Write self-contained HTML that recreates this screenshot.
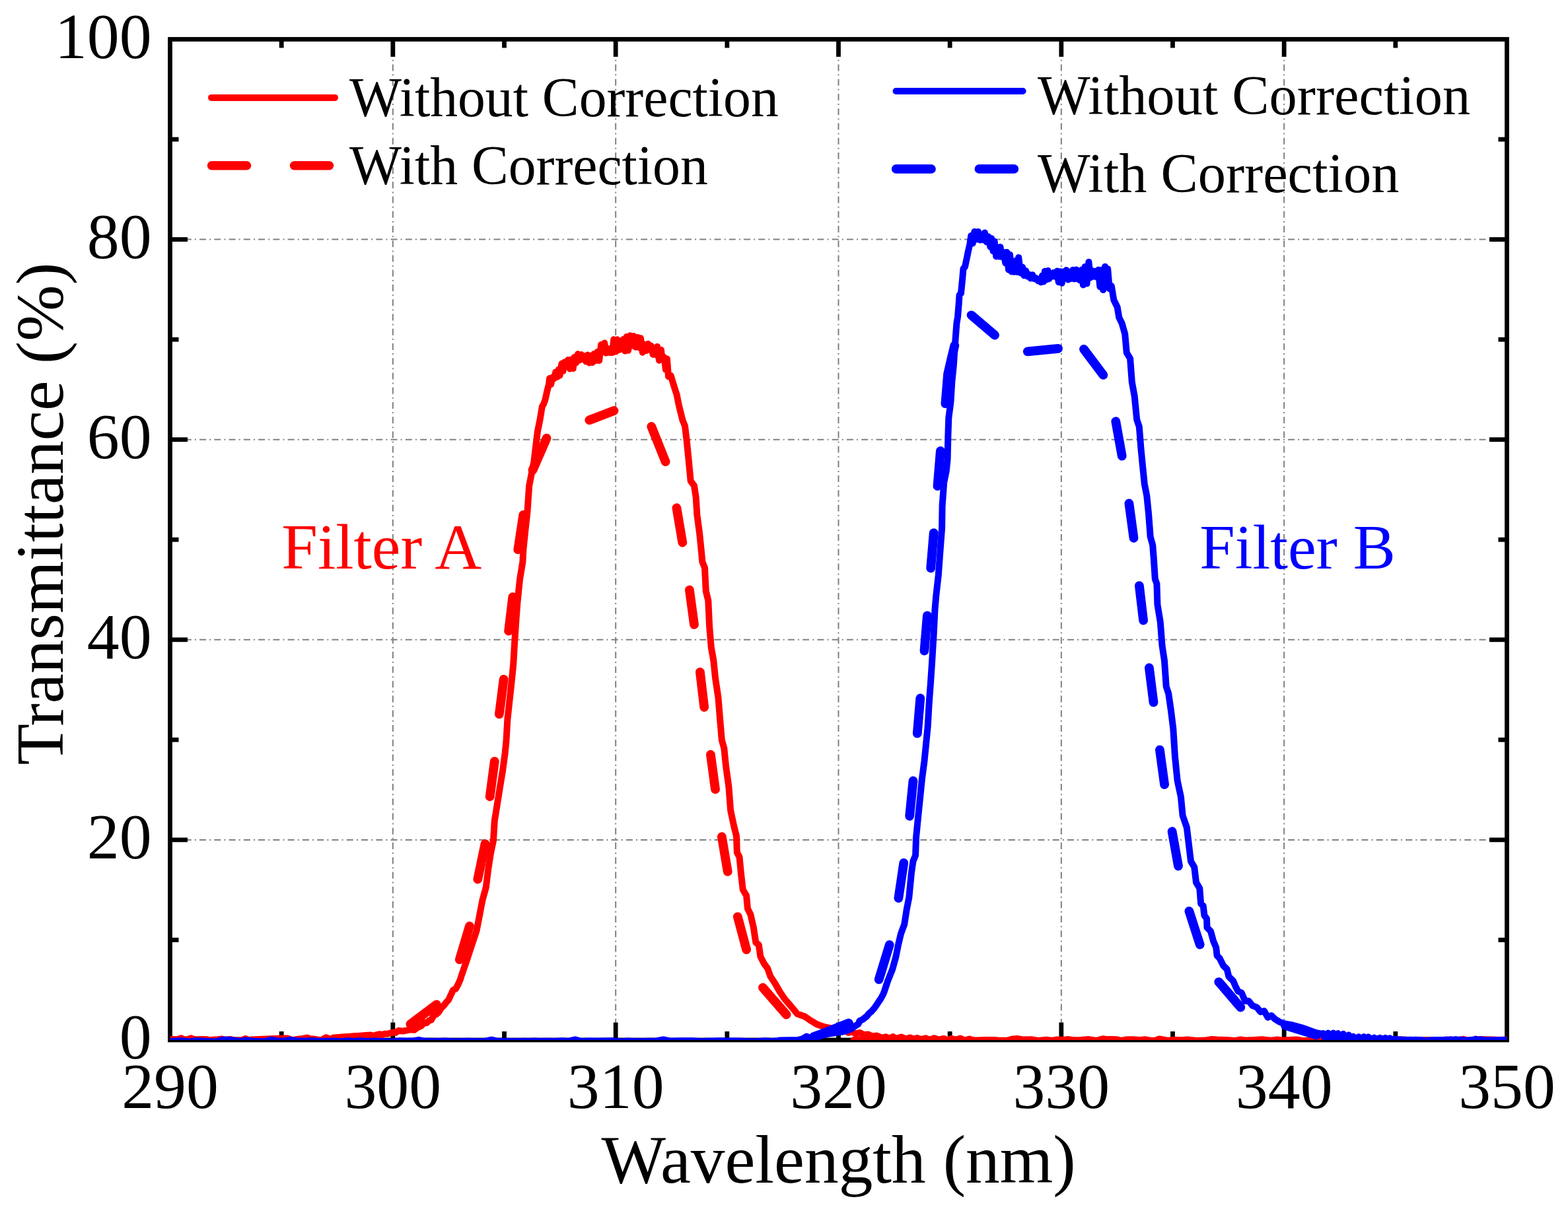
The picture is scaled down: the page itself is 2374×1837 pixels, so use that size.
<!DOCTYPE html>
<html><head><meta charset="utf-8"><title>Transmittance</title><style>html,body{margin:0;padding:0;background:#fff;}svg{display:block;}</style></head><body>
<svg width="2374" height="1837" viewBox="0 0 2374 1837">
<rect width="2374" height="1837" fill="#fff"/>
<g stroke="#808080" stroke-width="2" fill="none"><g stroke-dasharray="10 5.1 2 5.135"><line x1="594.83" y1="1575.00" x2="594.83" y2="59.50"/><line x1="932.17" y1="1575.00" x2="932.17" y2="59.50"/><line x1="1269.50" y1="1575.00" x2="1269.50" y2="59.50"/><line x1="1606.83" y1="1575.00" x2="1606.83" y2="59.50"/><line x1="1944.17" y1="1575.00" x2="1944.17" y2="59.50"/></g><g stroke-dasharray="10 5.1 2 5.17"><line x1="257.50" y1="1271.90" x2="2281.50" y2="1271.90"/><line x1="257.50" y1="968.80" x2="2281.50" y2="968.80"/><line x1="257.50" y1="665.70" x2="2281.50" y2="665.70"/><line x1="257.50" y1="362.60" x2="2281.50" y2="362.60"/></g></g>
<rect x="257.5" y="59.5" width="2024.0" height="1515.5" fill="none" stroke="#000" stroke-width="6.8"/>
<g stroke="#000" stroke-width="6.8"><line x1="426.17" y1="1575.00" x2="426.17" y2="1562.00"/><line x1="426.17" y1="59.50" x2="426.17" y2="72.50"/><line x1="594.83" y1="1575.00" x2="594.83" y2="1548.50"/><line x1="594.83" y1="59.50" x2="594.83" y2="86.00"/><line x1="763.50" y1="1575.00" x2="763.50" y2="1562.00"/><line x1="763.50" y1="59.50" x2="763.50" y2="72.50"/><line x1="932.17" y1="1575.00" x2="932.17" y2="1548.50"/><line x1="932.17" y1="59.50" x2="932.17" y2="86.00"/><line x1="1100.83" y1="1575.00" x2="1100.83" y2="1562.00"/><line x1="1100.83" y1="59.50" x2="1100.83" y2="72.50"/><line x1="1269.50" y1="1575.00" x2="1269.50" y2="1548.50"/><line x1="1269.50" y1="59.50" x2="1269.50" y2="86.00"/><line x1="1438.17" y1="1575.00" x2="1438.17" y2="1562.00"/><line x1="1438.17" y1="59.50" x2="1438.17" y2="72.50"/><line x1="1606.83" y1="1575.00" x2="1606.83" y2="1548.50"/><line x1="1606.83" y1="59.50" x2="1606.83" y2="86.00"/><line x1="1775.50" y1="1575.00" x2="1775.50" y2="1562.00"/><line x1="1775.50" y1="59.50" x2="1775.50" y2="72.50"/><line x1="1944.17" y1="1575.00" x2="1944.17" y2="1548.50"/><line x1="1944.17" y1="59.50" x2="1944.17" y2="86.00"/><line x1="2112.83" y1="1575.00" x2="2112.83" y2="1562.00"/><line x1="2112.83" y1="59.50" x2="2112.83" y2="72.50"/><line x1="257.50" y1="1423.45" x2="270.50" y2="1423.45"/><line x1="2281.50" y1="1423.45" x2="2268.50" y2="1423.45"/><line x1="257.50" y1="1271.90" x2="284.00" y2="1271.90"/><line x1="2281.50" y1="1271.90" x2="2255.00" y2="1271.90"/><line x1="257.50" y1="1120.35" x2="270.50" y2="1120.35"/><line x1="2281.50" y1="1120.35" x2="2268.50" y2="1120.35"/><line x1="257.50" y1="968.80" x2="284.00" y2="968.80"/><line x1="2281.50" y1="968.80" x2="2255.00" y2="968.80"/><line x1="257.50" y1="817.25" x2="270.50" y2="817.25"/><line x1="2281.50" y1="817.25" x2="2268.50" y2="817.25"/><line x1="257.50" y1="665.70" x2="284.00" y2="665.70"/><line x1="2281.50" y1="665.70" x2="2255.00" y2="665.70"/><line x1="257.50" y1="514.15" x2="270.50" y2="514.15"/><line x1="2281.50" y1="514.15" x2="2268.50" y2="514.15"/><line x1="257.50" y1="362.60" x2="284.00" y2="362.60"/><line x1="2281.50" y1="362.60" x2="2255.00" y2="362.60"/><line x1="257.50" y1="211.05" x2="270.50" y2="211.05"/><line x1="2281.50" y1="211.05" x2="2268.50" y2="211.05"/></g>
<defs><clipPath id="pc"><rect x="257.5" y="59.5" width="2024.0" height="1515.5"/></clipPath></defs>
<g clip-path="url(#pc)" fill="none" stroke-linecap="round" stroke-linejoin="round">
<path d="M250.0 1574.5 L262.0 1574.0 L268.0 1574.3 L274.3 1572.2 L279.3 1574.6 L284.0 1574.0 L289.4 1572.3 L294.0 1574.2 L300.0 1574.3 L307.0 1574.0 L314.0 1574.3 L317.8 1575.5 L322.0 1574.8 L330.0 1574.2 L336.0 1573.6 L341.0 1575.0 L348.0 1574.0 L353.0 1575.0 L357.0 1575.3 L364.5 1575.2 L366.0 1575.3 L371.9 1573.0 L378.3 1576.2 L380.1 1574.4 L428.7 1572.5 L435.0 1572.5 L442.4 1575.3 L451.6 1573.8 L458.0 1573.0 L465.3 1571.6 L470.0 1573.5 L474.5 1573.5 L480.0 1574.5 L486.4 1575.3 L493.7 1571.2 L499.2 1573.5 L505.0 1573.0 L510.0 1571.5 L515.7 1570.7 L561.0 1567.5 L566.0 1568.8 L569.5 1567.4 L575.0 1566.2 L578.0 1567.4 L581.8 1565.7 L588.0 1565.5 L594.2 1563.5 L599.0 1563.8 L603.4 1560.8 L609.5 1561.6 L615.0 1560.6 L621.8 1559.2 L627.0 1559.8 L633.1 1555.5 L638.0 1553.5 L642.6 1548.4 L646.0 1549.0 L649.7 1545.6 L653.0 1544.5 L656.8 1537.5 L660.0 1536.5 L663.9 1533.2 L668.7 1525.6 L671.0 1524.0 L676.0 1517.5 L679.0 1514.5 L682.0 1508.0 L686.0 1499.5 L690.0 1497.5 L693.8 1490.5 L697.6 1481.6 L697.6 1480.6 L705.6 1457.5 L714.4 1430.9 L721.5 1409.6 L726.0 1386.5 L730.4 1363.4 L735.8 1343.9 L739.3 1315.5 L743.0 1292.0 L747.0 1273.0 L748.8 1242.7 L752.3 1221.4 L756.8 1193.0 L761.2 1166.4 L764.7 1139.8 L766.5 1122.0 L768.3 1090.1 L771.0 1065.2 L774.5 1033.3 L777.2 1006.6 L779.0 975.0 L781.0 945.0 L783.4 913.0 L787.0 877.5 L791.4 850.9 L792.3 833.1 L795.0 806.5 L798.5 774.6 L801.2 735.5 L804.7 717.8 L808.3 700.0 L810.4 682.0 L813.9 653.6 L817.7 634.7 L820.8 615.8 L823.0 612.0 L825.2 606.3 L828.4 592.1 L831.2 581.0 L832.0 573.0 L834.1 582.2 L836.5 571.5 L838.8 573.5 L841.3 563.4 L843.9 570.7 L845.7 559.5 L847.6 568.5 L850.4 550.8 L852.5 561.9 L854.5 548.6 L857.5 551.6 L859.9 545.0 L862.7 558.5 L865.1 544.4 L867.7 558.1 L869.6 540.9 L872.2 549.5 L875.0 536.1 L877.5 545.5 L880.2 537.1 L882.8 544.1 L884.6 539.3 L887.3 547.6 L889.9 537.6 L892.0 549.5 L893.9 538.8 L896.7 549.1 L899.1 536.0 L901.7 546.2 L904.6 532.7 L907.2 546.0 L910.1 521.9 L912.4 532.9 L915.2 519.5 L917.5 534.6 L920.4 527.8 L923.3 534.1 L925.2 528.1 L927.2 534.0 L929.2 514.1 L932.2 532.6 L934.5 514.2 L937.1 529.9 L939.2 517.1 L941.6 523.8 L943.9 513.8 L946.1 531.6 L948.6 509.9 L951.1 530.7 L954.0 508.2 L956.6 523.5 L959.5 509.1 L962.4 525.7 L965.4 510.9 L968.0 526.5 L970.0 512.3 L972.8 533.7 L975.7 521.7 L978.6 531.0 L981.1 520.7 L983.8 529.0 L985.8 523.6 L988.6 536.9 L991.1 527.0 L993.2 537.4 L995.1 524.9 L998.0 545.7 L1000.9 530.0 L1002.8 545.0 L1005.6 541.1 L1007.9 559.8 L1009.9 543.5 L1012.0 570.2 L1015.6 568.8 L1021.0 586.5 L1024.5 597.2 L1028.1 614.9 L1033.4 636.2 L1037.0 645.1 L1039.6 666.4 L1042.3 693.0 L1045.7 728.4 L1051.0 735.5 L1053.7 753.3 L1055.4 779.9 L1059.0 806.5 L1061.7 833.1 L1063.4 850.9 L1067.0 859.8 L1068.8 895.3 L1072.3 909.5 L1074.1 948.5 L1076.8 980.5 L1080.3 1000.0 L1083.0 1026.6 L1087.5 1056.8 L1090.1 1088.8 L1092.8 1120.7 L1096.3 1133.1 L1099.0 1159.8 L1103.4 1191.7 L1106.1 1227.2 L1111.4 1252.1 L1115.0 1266.3 L1115.9 1291.1 L1119.5 1297.8 L1122.1 1324.4 L1124.8 1347.5 L1130.1 1356.3 L1131.9 1375.9 L1136.3 1384.7 L1140.8 1404.3 L1144.3 1427.3 L1148.8 1430.9 L1151.4 1448.7 L1156.8 1459.3 L1162.1 1466.4 L1166.5 1478.8 L1173.6 1489.5 L1180.7 1501.9 L1187.8 1512.6 L1198.5 1525.0 L1207.3 1535.6 L1218.0 1539.2 L1228.6 1546.3 L1237.5 1551.6 L1248.2 1555.2 L1258.8 1557.3 L1273.0 1560.5 L1279.0 1559.9 L1284.5 1563.8 L1289.7 1562.5 L1295.8 1565.4 L1302.3 1564.0 L1308.6 1567.5 L1313.9 1566.4 L1321.3 1569.6 L1327.0 1568.4 L1334.9 1571.6 L1341.0 1570.3 L1346.2 1573.0 L1352.1 1570.1 L1357.4 1572.9 L1364.9 1570.6 L1371.6 1573.7 L1377.7 1571.4 L1382.9 1573.5 L1388.5 1572.0 L1394.8 1574.2 L1401.6 1572.2 L1407.5 1575.0 L1414.6 1572.2 L1421.3 1574.9 L1428.9 1572.9 L1434.8 1575.6 L1440.1 1572.7 L1447.4 1574.9 L1453.9 1572.5 L1460.9 1575.7 L1467.6 1573.5 L1473.5 1575.7 L1490.6 1575.0 L1504.2 1575.0 L1510.7 1575.5 L1524.6 1575.8 L1533.7 1573.4 L1541.1 1573.1 L1548.1 1574.5 L1561.1 1574.2 L1571.5 1575.9 L1584.4 1574.6 L1593.2 1575.9 L1600.4 1574.4 L1608.3 1575.1 L1616.4 1574.0 L1625.4 1575.2 L1636.9 1575.1 L1648.3 1574.1 L1660.5 1575.9 L1669.7 1573.2 L1676.2 1574.1 L1683.5 1574.0 L1690.7 1574.2 L1696.9 1575.9 L1704.1 1574.6 L1713.0 1574.3 L1726.9 1575.0 L1733.6 1574.2 L1741.7 1575.8 L1747.9 1576.1 L1755.1 1573.4 L1768.9 1575.9 L1777.0 1574.8 L1789.2 1575.2 L1797.8 1574.5 L1811.7 1575.9 L1824.3 1575.6 L1834.4 1574.0 L1842.6 1574.6 L1856.3 1575.0 L1870.2 1576.1 L1878.0 1574.5 L1885.6 1575.4 L1898.3 1575.1 L1910.7 1574.2 L1924.0 1575.7 L1933.8 1574.4 L1942.5 1575.8 L1951.6 1574.9 L1963.4 1574.4 L1970.6 1576.0 L1977.8 1575.8 L1989.1 1574.8 L1996.1 1574.0 L2007.3 1575.2 L2016.8 1575.9 L2024.5 1574.6 L2032.4 1575.3 L2041.8 1574.3 L2050.6 1575.0 L2063.8 1574.9 L2073.8 1575.2 L2080.0 1575.0 L2086.0 1575.8 L2095.8 1575.6 L2104.4 1575.1 L2116.7 1574.2 L2124.7 1574.6 L2134.7 1575.2 L2148.0 1575.0 L2158.1 1575.1 L2167.7 1575.2 L2181.2 1575.5 L2194.8 1574.6 L2208.3 1575.8 L2215.3 1573.7 L2221.9 1575.5 L2235.0 1574.3 L2246.3 1574.3 L2260.1 1574.5 L2269.3 1575.1 L2281.9 1574.4 L2292.0 1574.7" stroke="#ff0000" stroke-width="10"/>
<path d="M505.0 1573.5 L556.0 1570.5 M621.4 1551.0 L661.0 1521.3 M695.8 1453.1 L710.9 1402.5 M723.3 1331.5 L734.5 1278.0 M741.7 1206.3 L748.8 1153.1 M755.9 1081.5 L762.6 1028.8 M770.1 955.6 L776.3 904.2 M784.3 832.3 L792.3 779.9 M806.5 712.0 L827.5 663.7 M892.3 636.2 L929.5 622.0 M986.3 646.0 L1007.6 699.2 M1024.4 769.2 L1033.3 821.6 M1043.9 893.5 L1051.0 945.9 M1059.9 1017.8 L1066.2 1071.0 M1075.9 1142.9 L1083.0 1195.3 M1092.8 1267.2 L1101.7 1319.9 M1116.8 1388.3 L1130.1 1438.0 M1155.0 1495.7 L1190.5 1536.5 M1294.0 1576.5 L1347.0 1577.0 M1420.0 1577.0 L1473.0 1577.0" stroke="#ff0000" stroke-width="13.8"/>
<path d="M250.0 1576.6 L257.1 1576.9 L264.3 1576.6 L274.8 1576.3 L287.4 1577.4 L296.2 1576.2 L305.1 1576.4 L318.5 1577.2 L326.5 1577.3 L338.4 1574.5 L350.3 1574.9 L363.8 1577.0 L371.4 1575.4 L384.5 1576.7 L395.3 1577.3 L403.2 1576.8 L411.0 1574.6 L419.4 1576.6 L431.7 1576.5 L440.0 1574.8 L448.7 1576.2 L459.6 1576.4 L473.1 1576.3 L483.2 1576.8 L492.9 1576.8 L506.8 1576.6 L518.7 1577.0 L528.2 1576.3 L535.7 1577.1 L543.8 1576.3 L556.9 1577.0 L565.6 1576.6 L573.7 1576.7 L587.4 1577.4 L596.1 1577.4 L605.6 1576.2 L616.0 1576.8 L626.5 1576.2 L634.1 1574.9 L641.3 1576.6 L652.4 1576.8 L664.0 1577.1 L673.7 1576.6 L681.7 1577.1 L689.1 1577.2 L700.4 1577.1 L708.4 1576.8 L721.3 1577.2 L732.4 1577.3 L744.2 1574.7 L752.1 1576.6 L765.0 1576.9 L776.4 1577.0 L783.4 1577.2 L793.9 1576.8 L801.4 1577.1 L808.9 1576.5 L817.3 1577.1 L827.8 1576.7 L839.6 1577.1 L851.1 1576.3 L859.9 1577.1 L870.8 1574.4 L879.7 1577.0 L891.4 1576.5 L901.7 1576.8 L915.0 1576.4 L928.5 1576.2 L941.2 1577.4 L950.1 1576.5 L958.6 1576.9 L969.3 1577.3 L982.0 1576.8 L993.9 1576.5 L1004.3 1574.4 L1014.8 1576.7 L1022.8 1576.6 L1035.6 1576.2 L1048.5 1576.3 L1060.5 1577.3 L1070.1 1576.7 L1081.2 1576.6 L1090.2 1576.3 L1103.0 1576.5 L1111.8 1576.5 L1120.1 1576.6 L1133.3 1577.2 L1146.7 1577.3 L1158.7 1576.3 L1168.9 1577.1 L1177.9 1576.3 L1180.0 1575.5 L1195.0 1575.3 L1207.5 1575.2 L1215.0 1573.5 L1221.2 1569.5 L1228.0 1572.5 L1235.0 1571.5 L1245.0 1568.0 L1255.3 1565.5 L1265.0 1564.0 L1276.0 1562.5 L1281.9 1561.0 L1289.9 1557.7 L1292.6 1555.2 L1299.5 1550.8 L1301.4 1546.3 L1306.0 1544.0 L1312.1 1539.2 L1316.0 1534.5 L1319.2 1532.1 L1324.0 1526.5 L1326.3 1523.2 L1331.0 1516.0 L1333.4 1512.6 L1336.6 1506.9 L1338.7 1501.9 L1344.0 1485.9 L1351.1 1468.2 L1356.5 1448.6 L1360.0 1430.9 L1364.0 1414.0 L1369.2 1400.0 L1372.8 1376.9 L1376.3 1359.2 L1379.9 1321.9 L1382.5 1304.2 L1386.1 1295.3 L1387.0 1268.7 L1389.6 1242.0 L1392.3 1215.4 L1395.9 1179.9 L1399.4 1153.3 L1402.1 1126.6 L1404.7 1100.0 L1406.6 1066.3 L1409.2 1030.8 L1411.0 1004.2 L1413.7 959.8 L1415.4 924.3 L1417.2 903.0 L1420.8 871.0 L1423.4 835.5 L1426.1 800.0 L1426.6 766.3 L1429.2 730.8 L1432.8 713.0 L1434.6 695.3 L1435.4 659.8 L1436.3 633.1 L1439.4 609.1 L1441.3 578.5 L1443.7 555.0 L1445.7 525.3 L1448.4 489.8 L1450.0 480.0 L1451.7 460.0 L1452.5 447.0 L1455.0 444.0 L1457.1 423.0 L1458.5 407.0 L1461.0 404.0 L1464.0 390.0 L1465.8 381.0 L1468.5 369.0 L1470.2 357.1 L1472.7 368.6 L1475.4 350.8 L1478.2 362.6 L1481.1 350.8 L1483.8 363.6 L1486.7 355.6 L1488.6 363.5 L1490.9 352.5 L1493.8 366.5 L1496.4 358.2 L1499.3 373.8 L1501.2 361.1 L1503.6 380.4 L1505.7 365.7 L1508.2 388.4 L1510.6 376.0 L1512.5 388.4 L1514.5 374.1 L1516.6 388.9 L1519.5 381.9 L1522.3 398.3 L1524.3 381.9 L1527.0 408.5 L1529.0 385.8 L1531.5 411.5 L1533.5 398.7 L1535.3 411.8 L1538.1 394.8 L1540.2 412.1 L1542.2 389.9 L1545.2 413.4 L1548.1 404.4 L1550.2 417.3 L1553.2 410.0 L1555.6 418.6 L1558.2 415.7 L1560.3 421.6 L1563.2 416.2 L1565.8 422.1 L1568.8 421.3 L1571.7 425.5 L1573.8 423.9 L1576.0 427.4 L1578.0 417.4 L1580.0 426.6 L1581.9 410.8 L1584.1 423.6 L1586.6 409.9 L1588.4 422.3 L1591.0 413.7 L1593.2 418.7 L1595.4 412.8 L1598.2 419.1 L1600.5 410.5 L1602.7 427.2 L1605.1 411.3 L1607.7 428.8 L1609.6 411.4 L1612.6 421.1 L1614.4 409.1 L1617.1 423.6 L1619.9 411.7 L1621.7 421.9 L1624.5 408.8 L1626.7 422.4 L1629.2 408.5 L1631.0 422.4 L1632.9 409.9 L1634.9 424.5 L1637.9 408.6 L1639.9 431.5 L1642.6 403.9 L1645.5 429.5 L1648.4 396.8 L1650.7 420.6 L1652.9 409.5 L1655.3 418.7 L1658.0 411.0 L1660.0 419.4 L1662.7 408.7 L1665.4 434.3 L1668.3 408.8 L1670.1 439.1 L1673.0 403.8 L1674.9 433.3 L1677.2 407.3 L1679.7 437.3 L1682.8 433.0 L1686.3 454.3 L1691.6 464.9 L1694.3 480.9 L1698.7 489.8 L1703.2 505.7 L1705.8 534.2 L1711.1 543.0 L1713.8 578.5 L1717.7 600.0 L1721.2 635.5 L1724.8 646.2 L1727.5 679.9 L1730.1 706.5 L1732.8 733.1 L1736.3 750.9 L1739.0 777.5 L1741.7 813.0 L1745.2 825.5 L1747.0 848.5 L1748.8 876.9 L1751.4 884.0 L1752.4 915.5 L1756.8 942.1 L1759.5 977.6 L1763.0 1000.7 L1765.7 1039.8 L1769.2 1050.4 L1772.8 1075.3 L1776.3 1103.7 L1779.0 1146.3 L1782.6 1182.0 L1787.9 1206.8 L1790.6 1235.2 L1796.8 1253.0 L1800.4 1283.1 L1803.0 1304.4 L1808.3 1313.3 L1811.0 1336.4 L1816.3 1345.3 L1818.1 1368.4 L1821.7 1371.9 L1823.4 1386.1 L1827.0 1391.4 L1827.5 1404.7 L1833.0 1410.2 L1837.1 1425.3 L1841.2 1434.9 L1842.6 1447.3 L1846.7 1451.4 L1852.2 1462.4 L1857.7 1467.9 L1860.4 1478.9 L1867.3 1485.8 L1870.1 1492.6 L1874.2 1500.9 L1879.7 1503.6 L1885.2 1516.0 L1890.7 1516.0 L1896.2 1522.9 L1903.0 1525.6 L1908.5 1532.5 L1914.0 1531.1 L1919.5 1540.7 L1925.0 1538.0 L1930.5 1543.5 L1937.4 1547.6 L1944.2 1550.3 L1957.0 1552.5 L1970.0 1556.0 L1980.0 1559.5 L1992.0 1564.0 L2002.0 1566.0 L2003.0 1564.9 L2006.9 1575.0 L2010.7 1564.5 L2013.9 1575.0 L2018.7 1564.5 L2021.7 1575.0 L2025.7 1565.0 L2030.5 1575.0 L2033.7 1565.7 L2037.8 1575.0 L2042.0 1567.4 L2045.1 1575.0 L2048.8 1569.7 L2053.2 1575.0 L2057.2 1570.3 L2061.6 1575.0 L2064.9 1570.1 L2068.4 1575.0 L2071.6 1570.4 L2075.6 1575.0 L2080.5 1571.6 L2084.7 1575.0 L2089.2 1571.9 L2093.0 1575.0 L2097.5 1572.0 L2100.7 1575.0 L2104.2 1572.4 L2108.6 1575.0 L2113.0 1573.4 L2116.9 1575.0 L2120.1 1574.4 L2123.6 1575.0 L2127.0 1574.7 L2130.6 1575.0 L2135.2 1574.7 L2138.6 1575.0 L2143.4 1574.7 L2148.1 1575.0 L2151.2 1575.0 L2155.0 1575.8 L2159.0 1576.1 L2162.0 1575.6 L2165.9 1575.2 L2170.7 1575.1 L2173.9 1575.1 L2178.1 1575.0 L2181.4 1574.9 L2185.5 1575.0 L2190.3 1574.6 L2193.7 1575.0 L2196.7 1574.4 L2199.9 1575.0 L2204.0 1574.1 L2207.0 1575.0 L2210.2 1574.5 L2214.2 1575.0 L2219.0 1575.4 L2222.9 1575.4 L2226.6 1575.1 L2230.9 1575.0 L2234.1 1573.6 L2238.3 1575.0 L2241.6 1574.2 L2245.8 1575.0 L2250.8 1575.2 L2253.9 1575.2 L2258.0 1575.2 L2262.2 1575.2 L2265.5 1575.2 L2269.0 1575.1 L2274.0 1575.1 L2279.0 1575.1 L2282.2 1575.0 L2286.7 1575.0" stroke="#0000ff" stroke-width="10"/>
<path d="M1232.0 1570.0 L1246.0 1565.0 L1285.0 1549.5 M1330.7 1483.3 L1346.7 1430.9 M1360.4 1360.1 L1368.3 1306.8 M1377.2 1235.8 L1382.5 1182.5 M1388.8 1110.7 L1393.3 1057.4 M1399.5 985.5 L1403.9 932.3 M1409.2 860.4 L1413.7 807.1 M1419.5 736.1 L1423.9 682.9 M1431.4 611.2 L1435.1 566.5 L1440.0 545.2 L1445.3 523.4 M1470.6 477.3 L1506.1 507.5 M1555.8 532.4 L1602.0 527.9 M1641.0 528.8 L1670.3 567.9 M1689.3 638.2 L1698.7 690.5 M1709.4 762.4 L1716.5 814.8 M1724.9 887.1 L1731.1 939.5 M1739.9 1011.4 L1746.5 1063.7 M1755.9 1135.6 L1763.1 1188.2 M1774.6 1259.2 L1784.0 1311.5 M1800.4 1379.9 L1816.7 1430.5 M1845.3 1487.1 L1878.3 1525.6 M1946.0 1553.0 L1993.0 1567.5 M2055.0 1575.0 L2105.0 1575.0" stroke="#0000ff" stroke-width="13.8"/>
</g>
<g font-family='"Liberation Serif", "Times New Roman", serif' font-size="97.8" fill="#000"><text x="229.6" y="1603.0" text-anchor="end">0</text><text x="229.6" y="1299.9" text-anchor="end">20</text><text x="229.6" y="996.8" text-anchor="end">40</text><text x="229.6" y="693.7" text-anchor="end">60</text><text x="229.6" y="390.6" text-anchor="end">80</text><text x="229.6" y="87.5" text-anchor="end">100</text><text x="257.5" y="1678.3" text-anchor="middle">290</text><text x="594.8" y="1678.3" text-anchor="middle">300</text><text x="932.2" y="1678.3" text-anchor="middle">310</text><text x="1269.5" y="1678.3" text-anchor="middle">320</text><text x="1606.8" y="1678.3" text-anchor="middle">330</text><text x="1944.2" y="1678.3" text-anchor="middle">340</text><text x="2281.5" y="1678.3" text-anchor="middle">350</text></g>
<text x="1269.6" y="1791" text-anchor="middle" font-family='"Liberation Serif", "Times New Roman", serif' font-size="103.4">Wavelength (nm)</text>
<text transform="translate(94.7 778.0) rotate(-90)" text-anchor="middle" font-family='"Liberation Serif", "Times New Roman", serif' font-size="102.4">Transmittance (%)</text>
<g font-family='"Liberation Serif", "Times New Roman", serif' fill="#000"><text x="529" y="175.7" font-size="83.7">Without Correction</text><text x="529" y="278.7" font-size="83.7">With Correction</text><text x="1571" y="172.9" font-size="84.4">Without Correction</text><text x="1571" y="291.1" font-size="84.4">With Correction</text></g>
<g stroke-linecap="round" fill="none"><line x1="320" y1="147.9" x2="507" y2="147.9" stroke="#ff0000" stroke-width="10"/><line x1="320.5" y1="250.7" x2="373.5" y2="250.7" stroke="#ff0000" stroke-width="13.5"/><line x1="445.5" y1="250.7" x2="498.5" y2="250.7" stroke="#ff0000" stroke-width="13.5"/><line x1="1356.6" y1="138" x2="1548.6" y2="138" stroke="#0000ff" stroke-width="10"/><line x1="1356.8" y1="255.9" x2="1409.9" y2="255.9" stroke="#0000ff" stroke-width="13.8"/><line x1="1482.5" y1="255.9" x2="1535.3" y2="255.9" stroke="#0000ff" stroke-width="13.8"/></g>
<text x="426.35" y="860.6" font-family='"Liberation Serif", "Times New Roman", serif' font-size="97" textLength="302.8" lengthAdjust="spacingAndGlyphs" fill="#ff0000">Filter A</text>
<text x="1816.3" y="860.6" font-family='"Liberation Serif", "Times New Roman", serif' font-size="96.2" fill="#0000ff">Filter B</text>

</svg>
</body></html>
